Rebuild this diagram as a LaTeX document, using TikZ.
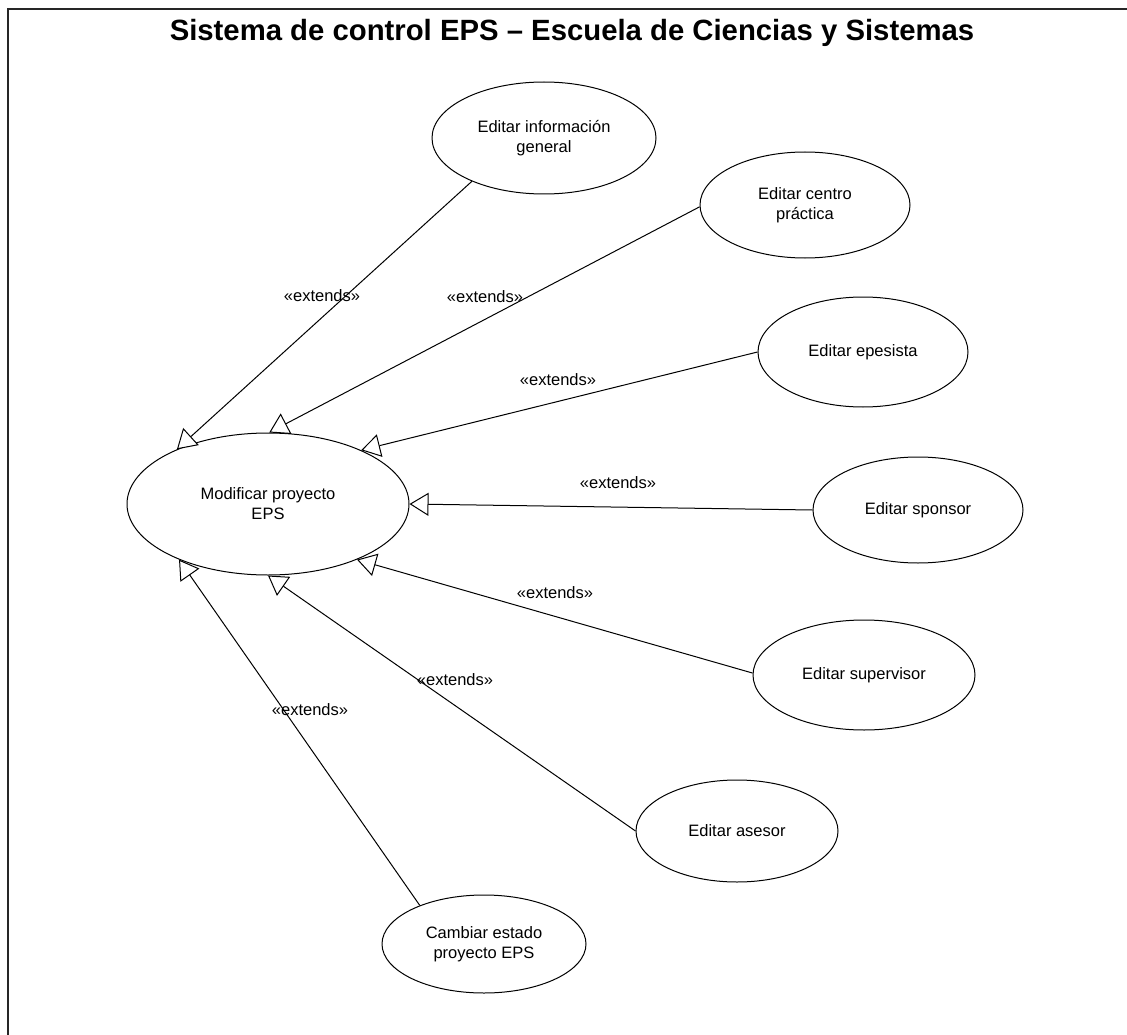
\documentclass[tikz,border=0pt]{standalone}
\usepackage{fontspec}
\setmainfont{Liberation Sans}
\usetikzlibrary{shapes.geometric,arrows.meta}
\begin{document}
\begin{tikzpicture}[x=1pt,y=-1pt,
  usecase/.style={draw=black, line width=1pt, ellipse, inner sep=0pt, align=center,
    font=\fontsize{16.5}{20}\selectfont},
  extends/.style={draw=black, line width=1pt,
    -{Triangle[open, length=19pt, width=23pt, fill=white]}},
  stereo/.style={font=\fontsize{16.5}{20}\selectfont, inner sep=0pt}]
  \useasboundingbox (0,0) rectangle (1127,1035);
  % system boundary (only its top and left sides fall inside the page)
  \draw[line width=1.6pt, draw=black!85] (8,1040) -- (8,9) -- (1135,9);
  \node[font=\fontsize{29.3}{34}\selectfont\bfseries, inner sep=0pt] (title) at (572,33)
    {Sistema de control EPS – Escuela de Ciencias y Sistemas};

  % use cases
  \node[usecase, minimum width=282pt, minimum height=142pt] (main) at (268,504) {Modificar proyecto\\EPS};
  \node[usecase, minimum width=224pt, minimum height=112pt] (info) at (544,138) {Editar información\\general};
  \node[usecase, minimum width=210pt, minimum height=106pt] (centro) at (805,205) {Editar centro\\práctica};
  \node[usecase, minimum width=210pt, minimum height=110pt] (epesista) at (863,352) {Editar epesista};
  \node[usecase, minimum width=210pt, minimum height=106pt] (sponsor) at (918,510) {Editar sponsor};
  \node[usecase, minimum width=222pt, minimum height=110pt] (supervisor) at (864,675) {Editar supervisor};
  \node[usecase, minimum width=202pt, minimum height=102pt] (asesor) at (737,831) {Editar asesor};
  \node[usecase, minimum width=204pt, minimum height=98pt] (cambiar) at (484,944) {Cambiar estado\\proyecto EPS};

  % extend relations
  \draw[extends] (info.211) -- (main.149);
  \draw[extends] (centro.181) -- (main.89);
  \draw[extends] (epesista.180) -- (main.30);
  \draw[extends] (sponsor.180) -- (main.0);
  \draw[extends] (supervisor.179) -- (main.328);
  \draw[extends] (asesor.180) -- (main.270);
  \draw[extends] (cambiar.149) -- (main.212);

  % stereotype labels
  \node[stereo] (s1) at (322,296) {«extends»};
  \node[stereo] (s2) at (485,297) {«extends»};
  \node[stereo] (s3) at (558,380) {«extends»};
  \node[stereo] (s4) at (618,483) {«extends»};
  \node[stereo] (s5) at (555,593) {«extends»};
  \node[stereo] (s6) at (455,680) {«extends»};
  \node[stereo] (s7) at (310,710) {«extends»};
\end{tikzpicture}
\end{document}
